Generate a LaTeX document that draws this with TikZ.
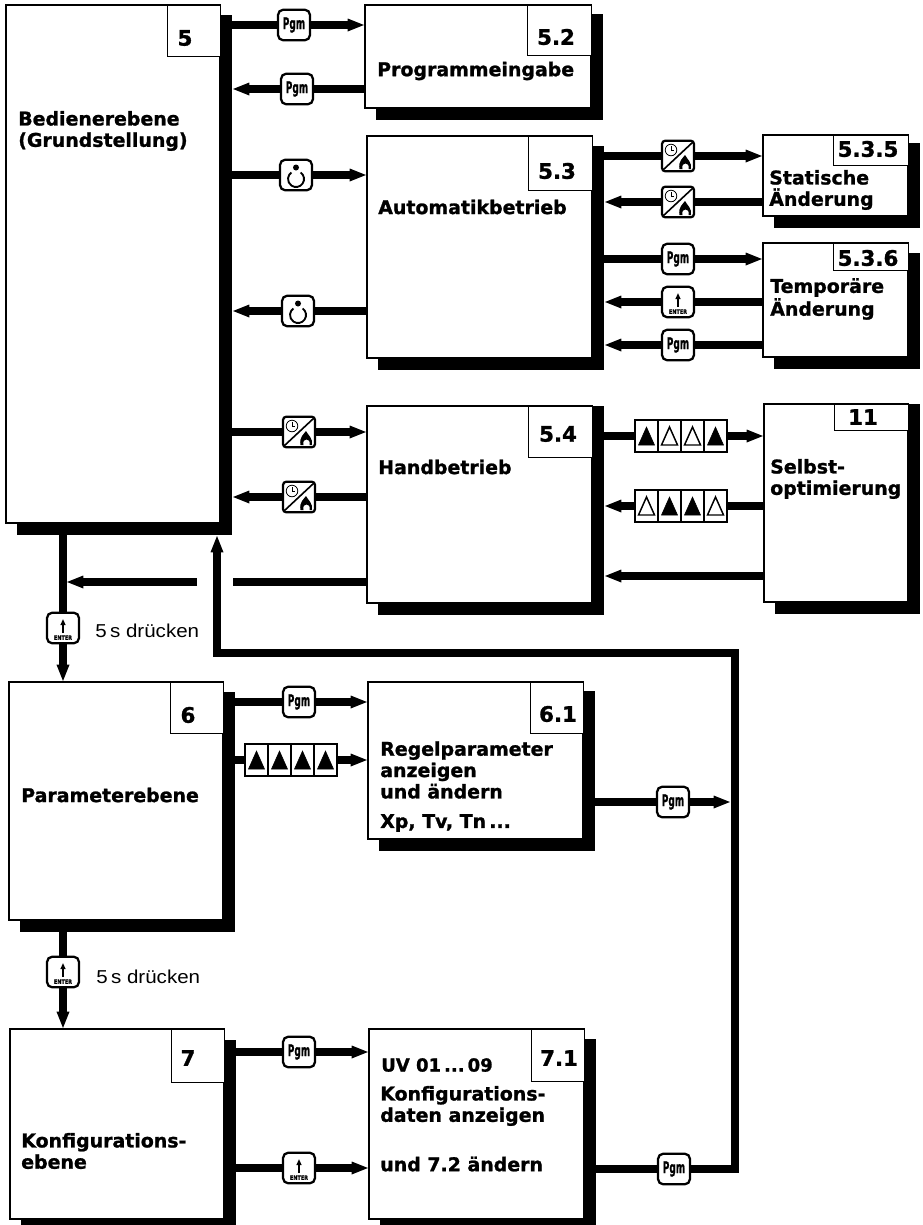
\documentclass[tikz,border=0pt]{standalone}
\usepackage{fontspec}
\setmainfont{DejaVu Sans}[BoldFeatures={FakeBold=1.2}]
\newfontfamily\libfont{Liberation Sans}
\usetikzlibrary{arrows.meta,fit}
\tikzset{
  x=0.75pt,y=-0.75pt,
  blockbox/.style={draw=black,fill=white,line width=1.1pt,inner sep=0pt,outer sep=0pt},
  shadebox/.style={fill=black,inner sep=0pt,outer sep=0pt},
  numbox/.style={draw=black,line width=.75pt,fill=white,inner sep=0pt,outer sep=0pt},
  numtext/.style={font=\fontsize{16}{18}\selectfont\bfseries,inner sep=0pt},
  lab/.style={anchor=west,align=left,inner sep=0pt,font=\fontsize{14.2}{16}\selectfont\bfseries},
  sublab/.style={anchor=west,inner sep=0pt,font=\fontsize{13.5}{16}\selectfont\bfseries},
  hint/.style={anchor=west,inner sep=0pt,font=\libfont\fontsize{14}{16}\selectfont},
  keybox/.style={draw=black,fill=white,line width=1.7pt,rounded corners=4pt,minimum width=24pt,minimum height=23pt,inner sep=0pt,outer sep=0pt},
  conn/.style={line width=5.6pt,draw=black},
  arr/.style={conn,-{Triangle[length=13pt,width=8.6pt]}},
  tf/.style={fill=black,draw=black,line width=.4pt,line join=miter},
  to/.style={fill=white,draw=black,line width=1.1pt,line join=miter},
  barbox/.style={draw=black,fill=white,line width=.9pt,minimum width=69pt,minimum height=24pt,inner sep=0pt,outer sep=0pt},
  enterlab/.style={inner sep=0pt,font=\fontsize{4.6}{5}\selectfont\bfseries}
}
% name x1 y1 x2 y2 shadowtop
\newcommand\blk[6]{%
  \node[shadebox,fit={(#2+11,#6)(#4+12,{min(#5+12,1225)})}] (#1-s) {};
  \node[blockbox,fit={(#2,#3)(#4,#5)}] (#1) {};
}
% name x1 y1 x2 y2 tx ty text
\newcommand\numtag[8]{%
  \node[numbox,fit={(#2,#3)(#4,#5)}] (#1-n) {};
  \node[numtext] (#1-t) at (#6,#7) {#8};
}
\newcommand\keypgm[3]{\node[keybox] (#1) at (#2,#3) {\fontsize{12}{13}\selectfont\bfseries\scalebox{.56}[1]{Pgm}};}
\newcommand\keypower[3]{%
  \node[keybox] (#1) at (#2,#3) {};
  \begin{scope}[shift={(#1.center)}]
    \draw[line width=1.4pt] (4.6,-2.55) arc[start angle=-55,end angle=235,radius=8];
    \fill (0,-7.5) circle[radius=3];
  \end{scope}
}
\newcommand\keyenter[3]{%
  \node[keybox] (#1) at (#2,#3) {};
  \node[enterlab] (#1-t) at ([yshift=-7.2pt]#1.center) {\scalebox{.8}[1]{ENTER}};
  \begin{scope}[shift={(#1.center)}]
    \draw[line width=1.2pt,-{Triangle[length=4.5pt,width=3.6pt]}] (0,5) -- (0,-9);
  \end{scope}
}
\newcommand\keyhand[3]{%
  \node[keybox,rounded corners=2.5pt] (#1) at (#2,#3) {};
  \begin{scope}[shift={(#1.center)}]
    \draw[line width=1.2pt] (-15,14) -- (15,-14);
    \draw[line width=.6pt] (-7,-6) circle[radius=5.8];
    \draw[line width=.6pt] (-7,-10) -- (-7,-6) -- (-4,-6);
    \fill (1.5,13) .. controls (0,5) and (5,2) .. (7,-1) .. controls (9,3) and (14,6) .. (13,13)
      -- (10.5,13) .. controls (11.5,9) and (9.5,7.5) .. (7.5,7.5) .. controls (5.5,7.5) and (3.5,9) .. (4.5,13) -- cycle;
  \end{scope}
}
\newcommand\tri[2]{\draw[#2] (#1-8,9) -- (#1+8,9) -- (#1,-9) -- cycle;}
\newcommand\tribar[7]{%
  \node[barbox] (#1) at (#2,#3) {};
  \begin{scope}[shift={(#1.center)}]
    \foreach \q in {-23,0,23} {\draw[line width=.9pt] (\q,-16) -- (\q,16);}
    \tri{-34.5}{#4}\tri{-11.5}{#5}\tri{11.5}{#6}\tri{34.5}{#7}
  \end{scope}
}
\begin{document}
\begin{tikzpicture}
\useasboundingbox (0,0) rectangle (923,1225);
\fill[white] (0,0) rectangle (923,1225);
% blocks
\blk{bA}{6}{5}{220}{523}{15}
\blk{bB}{365}{5}{591}{108}{14}
\blk{bC}{367}{136}{592}{358}{146}
\blk{bD}{367}{406}{592}{603}{406}
\blk{bE}{763}{135}{908}{216}{143}
\blk{bF}{763}{243}{908}{357}{253}
\blk{bG}{764}{404}{908}{602}{404}
\blk{bH}{9}{682}{223}{920}{692}
\blk{bI}{368}{682}{583}{839}{691}
\blk{bJ}{10}{1029}{224}{1219}{1040}
\blk{bK}{369}{1029}{584}{1219}{1039}
% number tags
\numtag{bA}{167}{5}{220}{56}{185}{38}{5}
\numtag{bB}{527}{5}{591}{55}{556}{37}{5.2}
\numtag{bC}{528}{136}{592}{190}{557}{171}{5.3}
\numtag{bD}{528}{406}{592}{457}{558}{434}{5.4}
\numtag{bE}{833}{135}{908}{165}{868}{149}{5.3.5}
\numtag{bF}{833}{243}{908}{270}{868}{258}{5.3.6}
\numtag{bG}{834}{404}{908}{430}{863}{417}{11}
\numtag{bH}{170}{682}{223}{733}{188}{715}{6}
\numtag{bI}{530}{682}{583}{733}{558}{714}{6.1}
\numtag{bJ}{171}{1029}{224}{1082}{188}{1058}{7}
\numtag{bK}{531}{1029}{584}{1081}{559}{1058}{7.1}
% labels
\node[lab] (tA) at (18,131) {Bedienerebene\\(Grundstellung)};
\node[lab] (tB) at (377,71) {Programmeingabe};
\node[lab] (tC) at (378,207) {Automatikbetrieb};
\node[lab] (tE) at (769,190) {Statische\\Änderung};
\node[lab] (tF) at (770,299) {Temporäre\\Änderung};
\node[lab] (tD) at (378,467) {Handbetrieb};
\node[lab] (tG) at (770,479) {Selbst-\\optimierung};
\node[lab] (tH) at (21,795) {Parameterebene};
\node[lab] (tI) at (380,770) {Regelparameter\\anzeigen\\und ändern};
\node[lab] (tIb) at (380,823) {Xp, Tv, Tn\,...};
\node[lab] (tJ) at (21,1151) {Konfigurations-\\ebene};
\node[sublab] (tuv) at (381,1065) {UV 01\,...\,09};
\node[lab] (tko) at (380,1106) {Konfigurations-\\daten anzeigen};
\node[lab] (tun) at (380,1164) {und 7.2 ändern};
\node[hint] (hone) at (95,631) {\scalebox{1.1}[1]{5\,s drücken}};
\node[hint] (htwo) at (96,977) {\scalebox{1.1}[1]{5\,s drücken}};
% keys
\keypgm{ka}{294}{25}
\keypgm{kb}{297}{89}
\keypower{kc}{296}{175}
\keypower{kd}{298}{311}
\keyhand{ke}{299}{432}
\keyhand{kf}{299}{497}
\keyhand{kg}{678}{156}
\keyhand{kh}{678}{202}
\keypgm{ki}{678}{259}
\keyenter{kj}{678}{302}
\keypgm{kk}{678}{345}
\tribar{kl}{681}{436}{tf}{to}{to}{tf}
\tribar{km}{681}{506}{to}{tf}{tf}{to}
\keyenter{kn}{63}{628}
\keypgm{ko}{299}{702}
\tribar{kp}{291}{760}{tf}{tf}{tf}{tf}
\keypgm{kq}{673}{802}
\keyenter{kr}{63}{972}
\keypgm{ks}{299}{1052}
\keyenter{kt}{299}{1168}
\keypgm{ku}{674}{1169}
% free corners
\coordinate (ret) at (735,653);
\coordinate (retl) at (217,653);
\coordinate (gapr) at (233,582);
\coordinate (gapl) at (197,582);
\coordinate (tipa) at (66,582);
\coordinate (lowr) at (0,576);
% connectors
\draw[conn] (bA-s.east |- ka) -- (ka.west);
\draw[arr] (ka.east) -- (bB.west |- ka);
\draw[conn] (bB.west |- kb) -- (kb.east);
\draw[arr] (kb.west) -- (bA-s.east |- kb);
\draw[conn] (bA-s.east |- kc) -- (kc.west);
\draw[arr] (kc.east) -- (bC.west |- kc);
\draw[conn] (bC.west |- kd) -- (kd.east);
\draw[arr] (kd.west) -- (bA-s.east |- kd);
\draw[conn] (bA-s.east |- ke) -- (ke.west);
\draw[arr] (ke.east) -- (bD.west |- ke);
\draw[conn] (bD.west |- kf) -- (kf.east);
\draw[arr] (kf.west) -- (bA-s.east |- kf);
\draw[conn] (bC-s.east |- kg) -- (kg.west);
\draw[arr] (kg.east) -- (bE.west |- kg);
\draw[conn] (bE.west |- kh) -- (kh.east);
\draw[arr] (kh.west) -- (bC-s.east |- kh);
\draw[conn] (bC-s.east |- ki) -- (ki.west);
\draw[arr] (ki.east) -- (bF.west |- ki);
\draw[conn] (bF.west |- kj) -- (kj.east);
\draw[arr] (kj.west) -- (bC-s.east |- kj);
\draw[conn] (bF.west |- kk) -- (kk.east);
\draw[arr] (kk.west) -- (bC-s.east |- kk);
\draw[conn] (bD-s.east |- kl) -- (kl.west);
\draw[arr] (kl.east) -- (bG.west |- kl);
\draw[conn] (bG.west |- km) -- (km.east);
\draw[arr] (km.west) -- (bD-s.east |- km);
\draw[arr] (bG.west |- lowr) -- (bD-s.east |- lowr);
\draw[conn] (bA-s.south -| kn) -- (kn.north);
\draw[arr] (kn.south) -- (bH.north -| kn);
\draw[conn] (bD.west |- gapr) -- (gapr);
\draw[arr] (gapl) -- (tipa);
\draw[conn] (bH-s.east |- ko) -- (ko.west);
\draw[arr] (ko.east) -- (bI.west |- ko);
\draw[conn] (bH-s.east |- kp) -- (kp.west);
\draw[arr] (kp.east) -- (bI.west |- kp);
\draw[conn] (bI-s.east |- kq) -- (kq.west);
\draw[arr] (kq.east) -- ([xshift=-3pt]ret |- kq);
\draw[conn] (bH-s.south -| kr) -- (kr.north);
\draw[arr] (kr.south) -- (bJ.north -| kr);
\draw[conn] (bJ-s.east |- ks) -- (ks.west);
\draw[arr] (ks.east) -- (bK.west |- ks);
\draw[conn] (bJ-s.east |- kt) -- (kt.west);
\draw[arr] (kt.east) -- (bK.west |- kt);
\draw[conn] (bK-s.east |- ku) -- (ku.west);
\draw[arr,line join=miter] (ku.east) -- (ret |- ku) -- (ret) -- (retl) -- (bA-s.south -| retl);
\end{tikzpicture}
\end{document}
